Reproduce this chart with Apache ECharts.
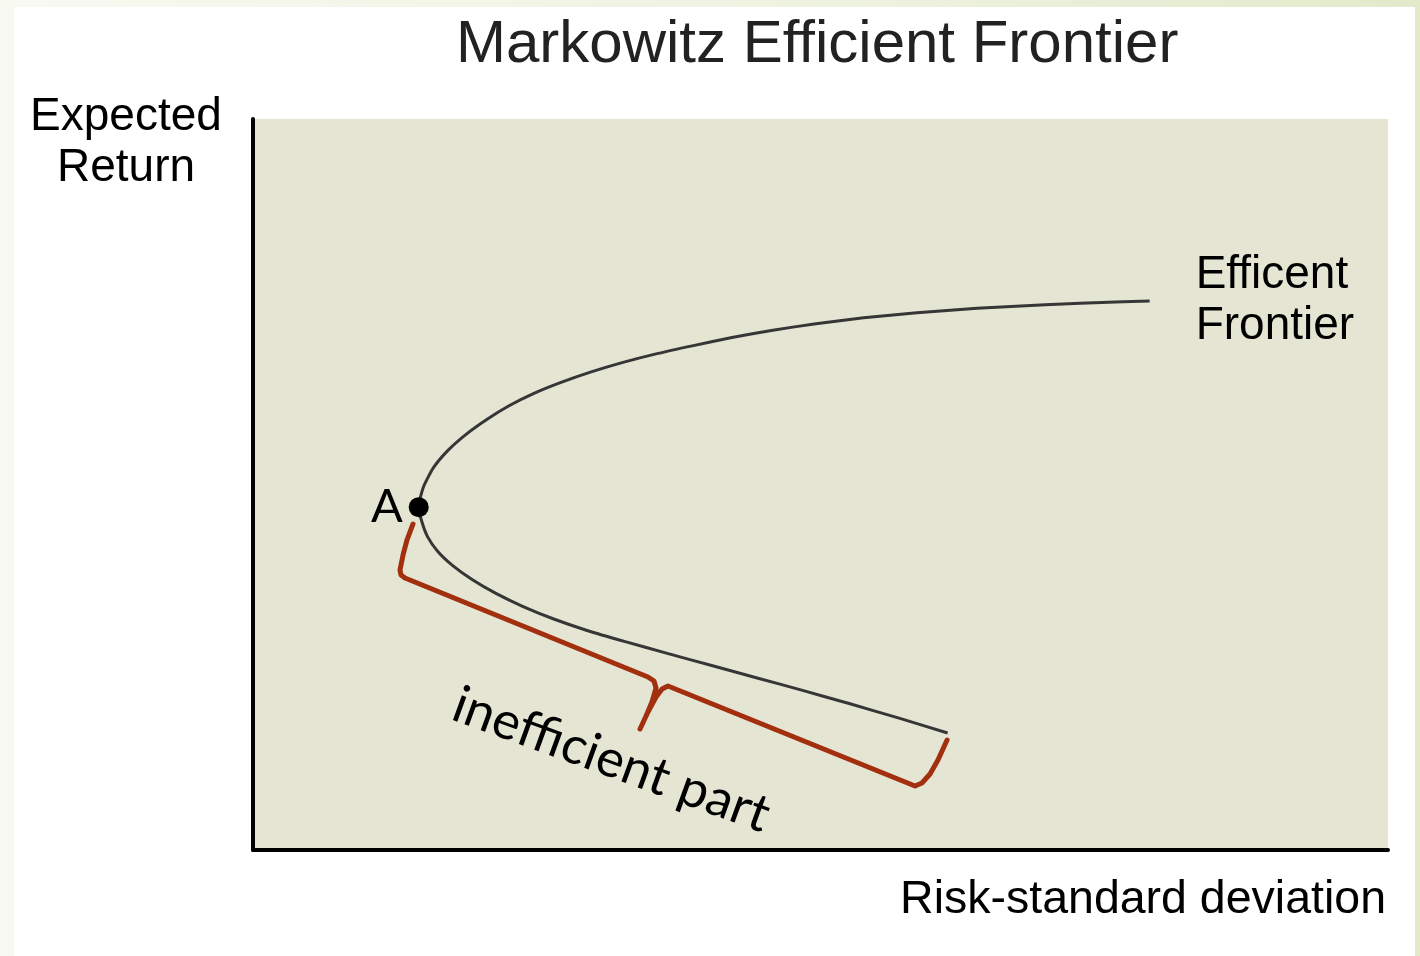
<!DOCTYPE html>
<html>
<head>
<meta charset="utf-8">
<script src="https://cdn.jsdelivr.net/npm/echarts@6/dist/echarts.min.js"></script>
<style>
  html, body { margin: 0; padding: 0; }
  body { width: 1420px; height: 956px; background: linear-gradient(90deg, #f8f9f1 0%, #eef2e0 60%, #e2eacb 100%); position: relative; }
  #chart { position: absolute; left: 14px; top: 7px; width: 1401px; height: 949px; background: #fff; }
</style>
</head>
<body>
<div id="chart"></div>
<script>
  // frontier: [risk, expected return], both on a 0-100 scale
  const lowerBranch = [
    [61.2, 16.0], [57.0, 18.0], [52.6, 20.0], [48.5, 21.8], [44.5, 23.5], [40.5, 25.2],
    [36.5, 26.9], [32.8, 28.5], [29.5, 30.0], [26.5, 31.6], [23.8, 33.3], [21.4, 35.1],
    [19.3, 37.0], [17.6, 38.9], [16.3, 40.8], [15.4, 42.8], [14.9, 44.8]
  ];
  const pointA = [14.6, 46.9];
  const upperBranch = [
    [15.0, 49.6], [15.9, 52.3], [17.2, 54.7], [18.8, 56.9], [20.6, 58.9], [22.6, 60.8],
    [24.8, 62.5], [27.2, 64.0], [29.8, 65.4], [32.6, 66.7], [35.6, 67.9], [38.8, 69.0],
    [42.2, 70.1], [45.8, 71.1], [49.6, 72.0], [53.8, 72.8], [58.5, 73.5], [63.8, 74.1],
    [69.8, 74.6], [76.0, 74.95], [79.0, 75.1]
  ];
  // curly brace under the inefficient part
  const braceLeft = [
    [14.1, 44.6], [13.57, 42.41], [13.22, 40.36], [12.95, 38.3], [13.04, 37.62], [13.39, 37.21],
    [34.8, 23.67], [35.33, 23.12], [35.51, 22.16], [35.15, 20.25], [34.63, 18.33], [34.1, 16.55]
  ];
  const braceRight = [
    [34.1, 16.55], [34.8, 18.88], [35.51, 20.93], [36.04, 22.02], [36.56, 22.44],
    [58.33, 8.76], [58.94, 9.17], [59.65, 10.4], [60.35, 12.31], [61.15, 15.05]
  ];

  const frontier = lowerBranch.concat([pointA], upperBranch);
  const brace = braceLeft.concat(braceRight.slice(1));

  const chart = echarts.init(document.getElementById('chart'));
  const labelFont = 'Liberation Sans, Arial, sans-serif';
  const roundFont = 'Lato, "Noto Sans", sans-serif';
  const option = {
    backgroundColor: '#ffffff',
    animation: false,
    title: {
      text: 'Markowitz Efficient Frontier',
      left: 437,
      top: 3,
      textStyle: { fontFamily: labelFont, fontSize: 60, fontWeight: 'normal', color: '#222' }
    },
    grid: {
      left: 239,
      right: 27,
      top: 112,
      bottom: 106,
      show: true,
      backgroundColor: '#e5e5d4',
      borderWidth: 0
    },
    xAxis: {
      type: 'value',
      min: 0,
      max: 100,
      name: 'Risk-standard deviation',
      nameLocation: 'end',
      nameGap: -2,
      nameTextStyle: {
        fontFamily: labelFont, fontSize: 46.5, color: '#000',
        align: 'right', verticalAlign: 'top', padding: [27, 0, 0, 0]
      },
      axisLine: { show: true, lineStyle: { color: '#000', width: 4 } },
      axisTick: { show: false },
      axisLabel: { show: false },
      splitLine: { show: false }
    },
    yAxis: {
      type: 'value',
      min: 0,
      max: 100,
      axisLine: { show: true, lineStyle: { color: '#000', width: 4 } },
      axisTick: { show: false },
      axisLabel: { show: false },
      splitLine: { show: false }
    },
    graphic: [
      {
        type: 'text',
        x: 112,
        y: 85,
        style: {
          text: 'Expected\nReturn',
          font: '46px ' + labelFont,
          fill: '#000',
          textAlign: 'center',
          textVerticalAlign: 'top',
          lineHeight: 51
        }
      },
      {
        type: 'text',
        x: 441,
        y: 696,
        rotation: -20 * Math.PI / 180,
        style: {
          text: 'inefficient part',
          font: '52px ' + roundFont,
          fill: '#000',
          textAlign: 'left',
          textVerticalAlign: 'middle'
        }
      }
    ],
    series: [
      {
        name: 'brace',
        type: 'line',
        data: brace,
        symbol: 'none',
        silent: true,
        lineStyle: { color: '#a2300f', width: 5, cap: 'round', join: 'round' },
        z: 2
      },
      {
        name: 'frontier',
        type: 'line',
        data: frontier,
        smooth: 0.2,
        symbol: 'none',
        lineStyle: { color: '#363636', width: 3 },
        endLabel: {
          show: true,
          formatter: 'Efficent\nFrontier',
          distance: 46,
          fontFamily: labelFont,
          fontSize: 46,
          lineHeight: 51,
          color: '#000'
        },
        z: 3
      },
      {
        name: 'A',
        type: 'scatter',
        data: [pointA],
        symbol: 'circle',
        symbolSize: 20,
        itemStyle: { color: '#000', opacity: 1 },
        label: {
          show: true,
          formatter: 'A',
          position: 'left',
          distance: 6,
          fontFamily: roundFont,
          fontSize: 47,
          color: '#000'
        },
        z: 4
      }
    ]
  };
  chart.setOption(option);
  window.addEventListener('resize', () => { chart.resize(); });
</script>
</body>
</html>
